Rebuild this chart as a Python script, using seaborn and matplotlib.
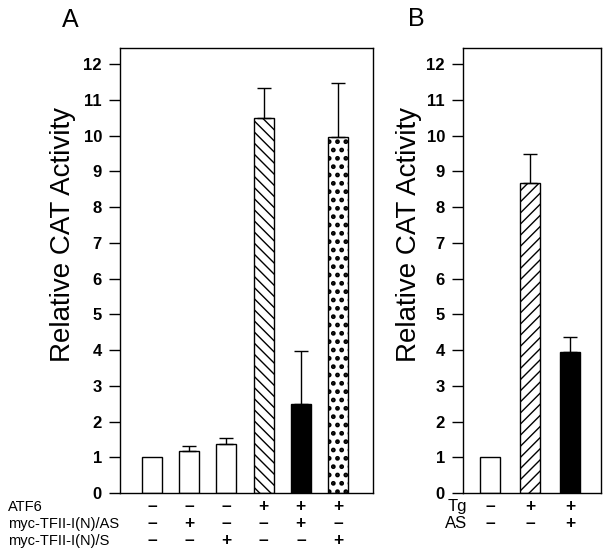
import matplotlib
matplotlib.use("Agg")
import matplotlib.pyplot as plt
import seaborn as sns
import pandas as pd
import numpy as np

# Panel A data
a_groups = ["1", "2", "3", "4", "5", "6"]
a_values = [1.0, 1.17, 1.37, 10.48, 2.49, 9.97]
a_err = [0.0, 0.15, 0.17, 0.84, 1.48, 1.51]
a_atf6 = ["–", "–", "–", "+", "+", "+"]
a_as = ["–", "+", "–", "–", "+", "–"]
a_s = ["–", "–", "+", "–", "–", "+"]
a_rows = ["ATF6", "myc-TFII-I(N)/AS", "myc-TFII-I(N)/S"]

# Panel B data
b_groups = ["1", "2", "3"]
b_values = [1.0, 8.66, 3.95]
b_err = [0.0, 0.83, 0.42]
b_tg = ["–", "+", "+"]
b_as = ["–", "–", "+"]
b_rows = ["Tg", "AS"]

yticks = list(range(0, 13))

sns.set_style("ticks")
plt.rcParams["font.family"] = ["Liberation Sans", "DejaVu Sans"]
plt.rcParams["hatch.linewidth"] = 1.0
for k in ["text.color", "axes.labelcolor", "xtick.color", "ytick.color"]:
    plt.rcParams[k] = "black"

fig = plt.figure(figsize=(6.1, 5.57), dpi=100)
axA = fig.add_axes([120 / 610, 64 / 557, 253 / 610, 445 / 557])
axB = fig.add_axes([463 / 610, 64 / 557, 138 / 610, 445 / 557])


def draw_panel(ax, groups, values, err, styles, width):
    df = pd.DataFrame({"group": groups, "value": values})
    sns.barplot(data=df, x="group", y="value", color="white", width=width,
                edgecolor="black", linewidth=1, errorbar=None, ax=ax)
    for patch, (face, hatch) in zip(ax.patches, styles):
        patch.set_facecolor(face)
        patch.set_edgecolor("black")
        if hatch:
            patch.set_hatch(hatch)
    xs = np.arange(len(values))
    e = np.array(err)
    m = e > 0
    ax.errorbar(xs[m], np.array(values)[m], yerr=[np.zeros(m.sum()), e[m]],
                fmt="none", ecolor="black", elinewidth=1, capsize=5, capthick=1)
    ax.set_ylim(0, 12.45)
    ax.set_yticks(yticks)
    ax.set_yticklabels([str(t) for t in yticks], fontsize=12, fontweight="bold")
    ax.set_xticks([])
    ax.set_xlabel("")
    ax.tick_params(axis="y", length=8, width=1, direction="out", pad=5)
    for sp in ax.spines.values():
        sp.set_visible(True)
        sp.set_linewidth(1)
        sp.set_color("black")


a_styles = [("white", None), ("white", None), ("white", None),
            ("white", "\\\\\\"), ("black", None), ("white", "..")]
draw_panel(axA, a_groups, a_values, a_err, a_styles, 0.54)
axA.set_xlim(-0.86, 5.94)
try:
    axA.patches[5].set_hatch_linewidth(2.2)
except AttributeError:
    pass

b_styles = [("white", None), ("white", "///"), ("black", None)]
draw_panel(axB, b_groups, b_values, b_err, b_styles, 0.52)
axB.set_xlim(-0.675, 2.775)

# y labels
for ax, xc in [(axA, -0.225), (axB, -0.39)]:
    ax.set_ylabel("Relative CAT Activity", fontsize=20)
    ax.yaxis.label.set_va("center")
    ax.yaxis.set_label_coords(xc, 0.58)

# condition rows under panel A
row_y = [-0.031, -0.069, -0.107]
for rv, signs in zip(row_y, [a_atf6, a_as, a_s]):
    for i, s in enumerate(signs):
        axA.text(i, rv, s, transform=axA.get_xaxis_transform(), ha="center",
                 va="center", fontsize=12.5, fontweight="bold")
for rv, name in zip(row_y, a_rows):
    fig.text(8 / 610, 64 / 557 + rv * 445 / 557, name, ha="left", va="center",
             fontsize=10.5)

# condition rows under panel B
for rv, signs in zip(row_y[:2], [b_tg, b_as]):
    for i, s in enumerate(signs):
        axB.text(i, rv, s, transform=axB.get_xaxis_transform(), ha="center",
                 va="center", fontsize=12.5, fontweight="bold")
for rv, name in zip(row_y[:2], b_rows):
    fig.text(467 / 610, 64 / 557 + rv * 445 / 557, name, ha="right", va="center",
             fontsize=12)

fig.text(70 / 610, 1 - 20 / 557, "A", ha="center", va="center", fontsize=18)
fig.text(416 / 610, 1 - 19 / 557, "B", ha="center", va="center", fontsize=18)

fig.savefig("out.png", dpi=100)
